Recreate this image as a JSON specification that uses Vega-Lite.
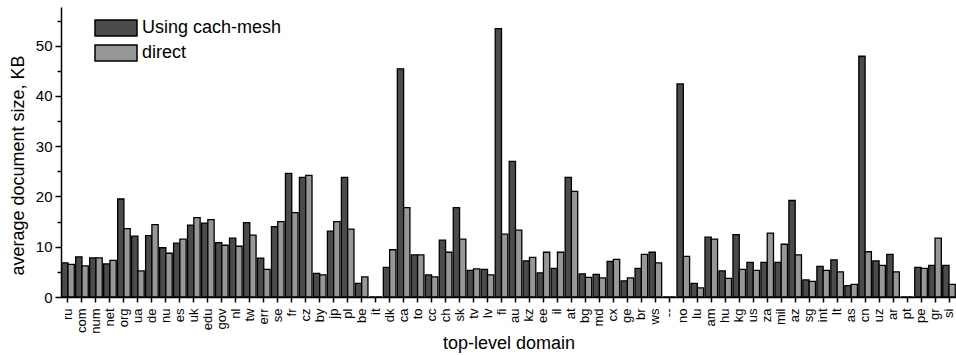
{
  "$schema": "https://vega.github.io/schema/vega-lite/v6.json",
  "autosize": {"type": "none"},
  "padding": {"left": 61, "top": 7, "right": 0, "bottom": 58},
  "width": 895,
  "height": 290,
  "background": "white",
  "config": {
    "font": "Liberation Sans",
    "view": {"stroke": null},
    "axis": {"domainColor": "black", "tickColor": "black", "labelColor": "black", "titleColor": "black", "grid": false, "domainWidth": 1.5, "tickWidth": 1.5, "titleFontWeight": "normal", "labelFont": "Liberation Sans", "titleFont": "Liberation Sans"}
  },
  "data": {"values": [
    {"tld":"ru","series":"Using cach-mesh","kb":6.8},{"tld":"ru","series":"direct","kb":6.5},
    {"tld":"com","series":"Using cach-mesh","kb":8.0},{"tld":"com","series":"direct","kb":6.2},
    {"tld":"num","series":"Using cach-mesh","kb":7.8},{"tld":"num","series":"direct","kb":7.8},
    {"tld":"net","series":"Using cach-mesh","kb":6.6},{"tld":"net","series":"direct","kb":7.3},
    {"tld":"org","series":"Using cach-mesh","kb":19.5},{"tld":"org","series":"direct","kb":13.6},
    {"tld":"ua","series":"Using cach-mesh","kb":12.1},{"tld":"ua","series":"direct","kb":5.2},
    {"tld":"de","series":"Using cach-mesh","kb":12.2},{"tld":"de","series":"direct","kb":14.4},
    {"tld":"nu","series":"Using cach-mesh","kb":9.8},{"tld":"nu","series":"direct","kb":8.7},
    {"tld":"es","series":"Using cach-mesh","kb":10.7},{"tld":"es","series":"direct","kb":11.5},
    {"tld":"uk","series":"Using cach-mesh","kb":14.3},{"tld":"uk","series":"direct","kb":15.8},
    {"tld":"edu","series":"Using cach-mesh","kb":14.7},{"tld":"edu","series":"direct","kb":15.4},
    {"tld":"gov","series":"Using cach-mesh","kb":10.8},{"tld":"gov","series":"direct","kb":10.3},
    {"tld":"nl","series":"Using cach-mesh","kb":11.7},{"tld":"nl","series":"direct","kb":10.1},
    {"tld":"tw","series":"Using cach-mesh","kb":14.8},{"tld":"tw","series":"direct","kb":12.3},
    {"tld":"err","series":"Using cach-mesh","kb":7.75},{"tld":"err","series":"direct","kb":5.5},
    {"tld":"se","series":"Using cach-mesh","kb":14.0},{"tld":"se","series":"direct","kb":15.0},
    {"tld":"fr","series":"Using cach-mesh","kb":24.6},{"tld":"fr","series":"direct","kb":16.8},
    {"tld":"cz","series":"Using cach-mesh","kb":23.8},{"tld":"cz","series":"direct","kb":24.2},
    {"tld":"by","series":"Using cach-mesh","kb":4.7},{"tld":"by","series":"direct","kb":4.4},
    {"tld":"jp","series":"Using cach-mesh","kb":13.1},{"tld":"jp","series":"direct","kb":15.0},
    {"tld":"pl","series":"Using cach-mesh","kb":23.8},{"tld":"pl","series":"direct","kb":13.5},
    {"tld":"be","series":"Using cach-mesh","kb":2.7},{"tld":"be","series":"direct","kb":4.0},
    {"tld":"it","series":"Using cach-mesh","kb":0},{"tld":"it","series":"direct","kb":0},
    {"tld":"dk","series":"Using cach-mesh","kb":5.9},{"tld":"dk","series":"direct","kb":9.4},
    {"tld":"ca","series":"Using cach-mesh","kb":45.4},{"tld":"ca","series":"direct","kb":17.8},
    {"tld":"to","series":"Using cach-mesh","kb":8.4},{"tld":"to","series":"direct","kb":8.4},
    {"tld":"cc","series":"Using cach-mesh","kb":4.4},{"tld":"cc","series":"direct","kb":4.0},
    {"tld":"ch","series":"Using cach-mesh","kb":11.3},{"tld":"ch","series":"direct","kb":8.9},
    {"tld":"sk","series":"Using cach-mesh","kb":17.8},{"tld":"sk","series":"direct","kb":11.5},
    {"tld":"tv","series":"Using cach-mesh","kb":5.3},{"tld":"tv","series":"direct","kb":5.6},
    {"tld":"lv","series":"Using cach-mesh","kb":5.5},{"tld":"lv","series":"direct","kb":4.4},
    {"tld":"fi","series":"Using cach-mesh","kb":53.4},{"tld":"fi","series":"direct","kb":12.5},
    {"tld":"au","series":"Using cach-mesh","kb":27.0},{"tld":"au","series":"direct","kb":13.3},
    {"tld":"kz","series":"Using cach-mesh","kb":7.2},{"tld":"kz","series":"direct","kb":7.9},
    {"tld":"ee","series":"Using cach-mesh","kb":4.8},{"tld":"ee","series":"direct","kb":8.9},
    {"tld":"il","series":"Using cach-mesh","kb":5.7},{"tld":"il","series":"direct","kb":8.9},
    {"tld":"at","series":"Using cach-mesh","kb":23.8},{"tld":"at","series":"direct","kb":21.0},
    {"tld":"bg","series":"Using cach-mesh","kb":4.6},{"tld":"bg","series":"direct","kb":3.9},
    {"tld":"md","series":"Using cach-mesh","kb":4.5},{"tld":"md","series":"direct","kb":3.8},
    {"tld":"cx","series":"Using cach-mesh","kb":7.1},{"tld":"cx","series":"direct","kb":7.5},
    {"tld":"ge","series":"Using cach-mesh","kb":3.2},{"tld":"ge","series":"direct","kb":3.8},
    {"tld":"br","series":"Using cach-mesh","kb":5.7},{"tld":"br","series":"direct","kb":8.5},
    {"tld":"ws","series":"Using cach-mesh","kb":8.9},{"tld":"ws","series":"direct","kb":6.8},
    {"tld":"--","series":"Using cach-mesh","kb":0},{"tld":"--","series":"direct","kb":0},
    {"tld":"no","series":"Using cach-mesh","kb":42.4},{"tld":"no","series":"direct","kb":8.1},
    {"tld":"lu","series":"Using cach-mesh","kb":2.7},{"tld":"lu","series":"direct","kb":1.8},
    {"tld":"am","series":"Using cach-mesh","kb":11.9},{"tld":"am","series":"direct","kb":11.5},
    {"tld":"hu","series":"Using cach-mesh","kb":5.2},{"tld":"hu","series":"direct","kb":3.7},
    {"tld":"kg","series":"Using cach-mesh","kb":12.4},{"tld":"kg","series":"direct","kb":5.5},
    {"tld":"us","series":"Using cach-mesh","kb":6.9},{"tld":"us","series":"direct","kb":5.3},
    {"tld":"za","series":"Using cach-mesh","kb":6.9},{"tld":"za","series":"direct","kb":12.7},
    {"tld":"mil","series":"Using cach-mesh","kb":6.9},{"tld":"mil","series":"direct","kb":10.5},
    {"tld":"az","series":"Using cach-mesh","kb":19.2},{"tld":"az","series":"direct","kb":8.4},
    {"tld":"sg","series":"Using cach-mesh","kb":3.4},{"tld":"sg","series":"direct","kb":3.1},
    {"tld":"int","series":"Using cach-mesh","kb":6.1},{"tld":"int","series":"direct","kb":5.3},
    {"tld":"lt","series":"Using cach-mesh","kb":7.4},{"tld":"lt","series":"direct","kb":5.0},
    {"tld":"as","series":"Using cach-mesh","kb":2.25},{"tld":"as","series":"direct","kb":2.5},
    {"tld":"cn","series":"Using cach-mesh","kb":47.9},{"tld":"cn","series":"direct","kb":9.0},
    {"tld":"uz","series":"Using cach-mesh","kb":7.2},{"tld":"uz","series":"direct","kb":6.3},
    {"tld":"ar","series":"Using cach-mesh","kb":8.5},{"tld":"ar","series":"direct","kb":5.0},
    {"tld":"pt","series":"Using cach-mesh","kb":0},{"tld":"pt","series":"direct","kb":0},
    {"tld":"pe","series":"Using cach-mesh","kb":5.9},{"tld":"pe","series":"direct","kb":5.7},
    {"tld":"gr","series":"Using cach-mesh","kb":6.3},{"tld":"gr","series":"direct","kb":11.7},
    {"tld":"si","series":"Using cach-mesh","kb":6.3},{"tld":"si","series":"direct","kb":2.5}
  ]},
  "mark": {"type": "bar", "stroke": "black", "strokeWidth": 1.3},
  "encoding": {
    "x": {
      "field": "tld", "type": "nominal", "sort": null,
      "scale": {"paddingInner": 0.1, "paddingOuter": 0.05},
      "axis": {
        "title": "top-level domain", "titleFontSize": 18, "titleY": 37, "titleBaseline": "top",
        "labelAngle": -90, "labelAlign": "right", "labelBaseline": "middle", "labelFontSize": 13,
        "labelPadding": 6, "tickSize": 5
      }
    },
    "xOffset": {"field": "series", "type": "nominal", "scale": {"domain": ["Using cach-mesh", "direct"]}},
    "y": {
      "field": "kb", "type": "quantitative",
      "scale": {"domain": [0, 57.7], "nice": false},
      "axis": {
        "title": "average document size, KB", "titleFontSize": 18,
        "titleX": -43, "titleY": 158, "titleBaseline": "middle", "titleAlign": "center", "titleAngle": -90,
        "values": [0, 5, 10, 15, 20, 25, 30, 35, 40, 45, 50, 55],
        "labelExpr": "datum.value % 10 === 0 ? datum.label : ''",
        "labelFontSize": 15, "labelPadding": 3,
        "tickSize": {"condition": {"test": "datum.value % 10 === 0", "value": 6}, "value": 4}
      }
    },
    "color": {
      "field": "series", "type": "nominal",
      "scale": {"domain": ["Using cach-mesh", "direct"], "range": ["#4b4b4b", "#979797"]},
      "legend": {
        "orient": "none", "legendX": 46, "legendY": 12, "title": null, "padding": 0,
        "symbolType": "M-2.625,-1H2.625V1H-2.625Z", "symbolSize": 256,
        "symbolStrokeColor": "black", "symbolStrokeWidth": 1.5, "symbolOpacity": 1,
        "labelFontSize": 18, "labelFont": "Liberation Sans", "labelColor": "black",
        "labelOffset": 17, "rowPadding": 3
      }
    }
  }
}
